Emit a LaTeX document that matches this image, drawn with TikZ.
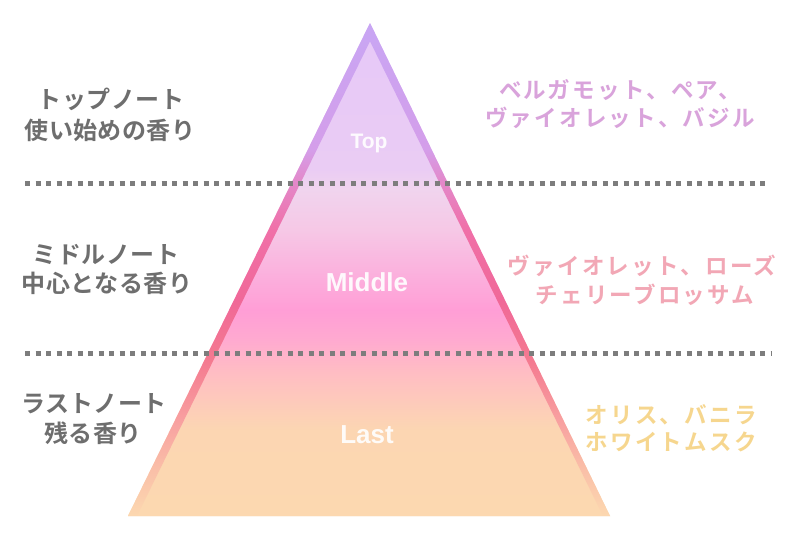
\documentclass[tikz,border=0pt]{standalone}
\usepackage{fontspec}
\newfontfamily\jpl[LetterSpace=2]{Noto Sans CJK JP Bold}
\newfontfamily\jpr[LetterSpace=10]{Noto Sans CJK JP Bold}
\newfontfamily\labfont{Liberation Sans Bold}

\definecolor{fPeach}{HTML}{FCD8B0}
\definecolor{fPeachB}{HTML}{FCD6B2}
\definecolor{fPeachC}{HTML}{FDCEB8}
\definecolor{fSalmon}{HTML}{FFBCC4}
\definecolor{fPinkA}{HTML}{FFAAD0}
\definecolor{fPinkB}{HTML}{FF9ED6}
\definecolor{fPinkC}{HTML}{FAB8E0}
\definecolor{fPinkD}{HTML}{F6C8E6}
\definecolor{fPale}{HTML}{F0D4EE}
\definecolor{fLavA}{HTML}{EACCF4}
\definecolor{fLavB}{HTML}{E6C8F8}

\definecolor{ePeach}{HTML}{FCD8B0}
\definecolor{eA}{HTML}{FAC0A8}
\definecolor{eB}{HTML}{F8A0A0}
\definecolor{eC}{HTML}{F47A90}
\definecolor{eD}{HTML}{F06898}
\definecolor{eE}{HTML}{F070A8}
\definecolor{eF}{HTML}{E28ACC}
\definecolor{eG}{HTML}{D49EEA}
\definecolor{eH}{HTML}{C8A6F4}

\definecolor{txtGray}{HTML}{6E6E6E}
\definecolor{txtTop}{HTML}{D9A3DB}
\definecolor{txtMid}{HTML}{F2A7B5}
\definecolor{txtLast}{HTML}{F6D68E}
\definecolor{dotGray}{HTML}{7D7D7D}

\pgfdeclareverticalshading{pyrfill}{100bp}{%
color(0bp)=(fPeach); color(25bp)=(fPeach); color(33.67bp)=(fPeachB);
color(35.71bp)=(fPeachC); color(39.8bp)=(fSalmon); color(42.86bp)=(fPinkA);
color(45.92bp)=(fPinkB); color(51.02bp)=(fPinkC); color(54.08bp)=(fPinkD);
color(58.16bp)=(fPale); color(60.2bp)=(fLavA); color(75bp)=(fLavB);
color(100bp)=(fLavB)}

\pgfdeclareverticalshading{pyredge}{100bp}{%
color(0bp)=(ePeach); color(25bp)=(ePeach); color(29.59bp)=(eA);
color(34.69bp)=(eB); color(40.82bp)=(eC); color(46.94bp)=(eD);
color(54.08bp)=(eE); color(59.18bp)=(eF); color(62.24bp)=(eG);
color(75bp)=(eH); color(100bp)=(eH)}

\tikzset{
  lefttxt/.style={anchor=base, inner sep=0pt, text=txtGray, font=\jpl\fontsize{24}{26}\selectfont},
  righttxt/.style={anchor=base, inner sep=0pt, font=\jpr\fontsize{22.5}{24}\selectfont},
  lvlbig/.style={anchor=base, inner sep=0pt, text=white, text opacity=0.92, font=\labfont\fontsize{26}{28}\selectfont},
  lvlsmall/.style={anchor=base, inner sep=0pt, text=white, text opacity=0.92, font=\labfont\fontsize{21}{23}\selectfont},
  dotline/.style={draw=dotGray, line width=5pt, dash pattern=on 5pt off 5.5pt}
}

\begin{document}
\begin{tikzpicture}[x=1pt, y=-1pt]
\useasboundingbox (0,0) rectangle (802,538);
\fill[white] (0,0) rectangle (802,538);

% pyramid fill
\coordinate (apex) at (370,23);
\coordinate (bl) at (128,516);
\coordinate (br) at (610,516);
\coordinate (iapex) at (370,41.3);
\coordinate (ibl) at (137,516);
\coordinate (ibr) at (603,516);
\shade[shading=pyrfill] (apex) -- (bl) -- (br) -- cycle;
\shade[shading=pyredge, even odd rule] (apex) -- (bl) -- (br) -- cycle (iapex) -- (ibl) -- (ibr) -- cycle;

% dotted separators
\coordinate (d1a) at (25,183);
\coordinate (d1b) at (767,183);
\coordinate (d2a) at (25,353);
\coordinate (d2b) at (772,353);
\draw[dotline] (d1a) -- (d1b);
\draw[dotline] (d2a) -- (d2b);

% level labels
\node[lvlsmall] (lTop) at (369,148) {Top};
\node[lvlbig] (lMid) at (367,291) {Middle};
\node[lvlbig] (lLast) at (367,443) {Last};

% left descriptions
\node[lefttxt] (tl1) at (111,108) {トップノート};
\node[lefttxt] (tl2) at (110,139) {使い始めの香り};
\node[lefttxt] (ml1) at (106,263) {ミドルノート};
\node[lefttxt] (ml2) at (107,292) {中心となる香り};
\node[lefttxt] (ll1) at (94,412) {ラストノート};
\node[lefttxt] (ll2) at (93,442) {残る香り};

% right descriptions
\node[righttxt, text=txtTop] (tr1) at (620,98) {ベルガモット、ペア、};
\node[righttxt, text=txtTop] (tr2) at (620,126) {ヴァイオレット、バジル};
\node[righttxt, text=txtMid] (mr1) at (642,274) {ヴァイオレット、ローズ};
\node[righttxt, text=txtMid] (mr2) at (645,303) {チェリーブロッサム};
\node[righttxt, text=txtLast] (lr1) at (671,423) {オリス、バニラ};
\node[righttxt, text=txtLast] (lr2) at (671,450) {ホワイトムスク};
\end{tikzpicture}
\end{document}
